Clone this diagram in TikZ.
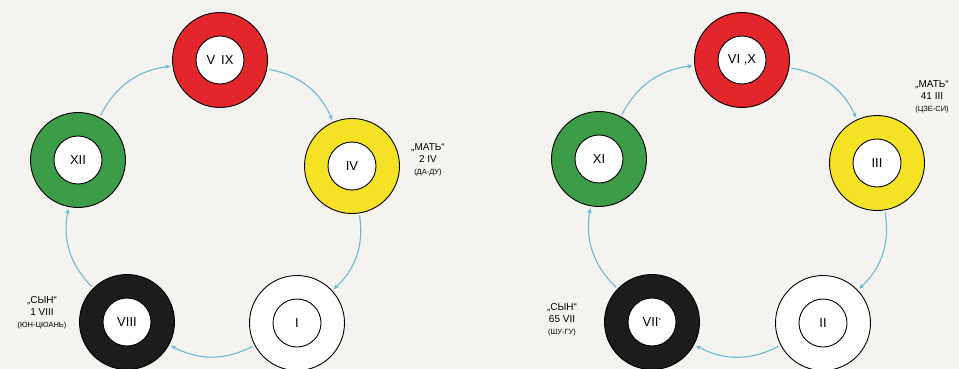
\documentclass[tikz,border=0pt]{standalone}
\usepackage{fontspec}
\setmainfont{Liberation Sans}
\usetikzlibrary{arrows.meta}
\definecolor{bgpaper}{HTML}{F4F3EF}
\definecolor{ringred}{HTML}{E3262B}
\definecolor{ringyellow}{HTML}{F6E224}
\definecolor{ringgreen}{HTML}{3C9C47}
\definecolor{ringblack}{HTML}{1C1C1C}
\definecolor{linkblue}{HTML}{66B9D8}
\tikzset{
  ring/.style={circle, draw=black, line width=0.9pt, minimum size=95pt, inner sep=0pt},
  hole/.style={circle, draw=black, fill=white, line width=0.9pt, minimum size=48pt, inner sep=0pt,
    font=\fontsize{13}{13}\selectfont},
  link/.style={draw=linkblue, line width=1.1pt, -{Stealth[length=5pt,width=4.5pt]},
    shorten >=2pt, shorten <=2pt, bend left=28},
  note/.style={align=center, inner sep=0pt, font=\fontsize{10}{12}\selectfont},
}
\newcommand{\subnote}[1]{{\fontsize{7.5}{9}\selectfont #1}}
\begin{document}
\begin{tikzpicture}[x=1pt,y=1pt]
\fill[bgpaper] (0,0) rectangle (959,-369);
\useasboundingbox (0,0) rectangle (959,-369);
% ---------- left cycle ----------
\node[ring, fill=ringred]    (Lr) at (220,-60)  {};
\node[ring, fill=ringyellow] (Ly) at (352,-166) {};
\node[ring, fill=ringgreen]  (Lg) at (78,-160)  {};
\node[ring, fill=ringblack]  (Lk) at (127,-322) {};
\node[ring, fill=white]      (Lw) at (297,-323) {};
\node[hole] (Lr-in) at (Lr) {V\hspace{6pt}IX};
\node[hole] (Ly-in) at (Ly) {IV};
\node[hole] (Lg-in) at (Lg) {XII};
\node[hole] (Lk-in) at (Lk) {VIII};
\node[hole] (Lw-in) at (Lw) {I};
\draw[link] (Lr) to (Ly);
\draw[link] (Ly) to (Lw);
\draw[link] (Lw) to (Lk);
\draw[link] (Lk) to (Lg);
\draw[link] (Lg) to (Lr);
\node[note] (Lmat) at (428,-160) {„МАТЬ“\\2 IV\\\subnote{(ДА-ДУ)}};
\node[note] (Lsyn) at (42,-313) {„СЫН“\\1 VIII\\\subnote{(ЮН-ЦЮАНЬ)}};
% ---------- right cycle ----------
\node[ring, fill=ringred]    (Rr) at (742,-60)  {};
\node[ring, fill=ringyellow] (Ry) at (877,-163) {};
\node[ring, fill=ringgreen]  (Rg) at (599,-159) {};
\node[ring, fill=ringblack]  (Rk) at (652,-322) {};
\node[ring, fill=white]      (Rw) at (823,-323) {};
\node[hole] (Rr-in) at (Rr) {VI ,X};
\node[hole] (Ry-in) at (Ry) {III};
\node[hole] (Rg-in) at (Rg) {XI};
\node[hole] (Rk-in) at (Rk) {VII\textsuperscript{\fontsize{6}{6}\selectfont *}};
\node[hole] (Rw-in) at (Rw) {II};
\draw[link] (Rr) to (Ry);
\draw[link] (Ry) to (Rw);
\draw[link] (Rw) to (Rk);
\draw[link] (Rk) to (Rg);
\draw[link] (Rg) to (Rr);
\node[note] (Rmat) at (932,-97) {„МАТЬ“\\41 III\\\subnote{(ЦЗЕ-СИ)}};
\node[note] (Rsyn) at (562,-320) {„СЫН“\\65 VII\\\subnote{(ШУ-ГУ)}};
\end{tikzpicture}
\end{document}
